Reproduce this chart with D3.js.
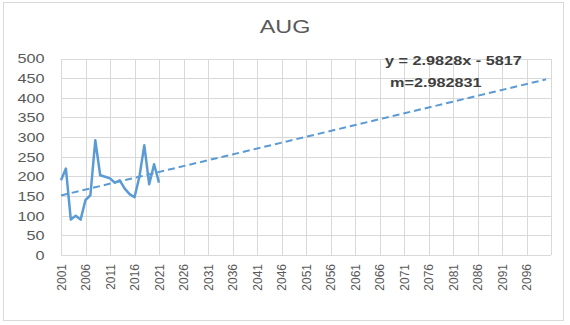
<!DOCTYPE html>
<html>
<head>
<meta charset="utf-8">
<script src="https://cdn.jsdelivr.net/npm/d3@7"></script>
<style>
  html, body { margin: 0; padding: 0; background: #ffffff; }
  svg { display: block; }
</style>
</head>
<body>
<svg id="chart" width="570" height="325"></svg>
<script>
// August series, 2001–2021
const years = [2001, 2002, 2003, 2004, 2005, 2006, 2007, 2008, 2009, 2010, 2011,
               2012, 2013, 2014, 2015, 2016, 2017, 2018, 2019, 2020, 2021];
const values = [190, 220, 90, 100, 90, 140, 152, 292, 203, 199, 195,
                184, 190, 169, 155, 147, 199, 279, 180, 231, 184];

// Linear trend as stated in the equation label
const trendSlope = 2.9828;
const trendIntercept = -5817;
const trendSlopeFull = 2.982831;
const trendYears = [2001, 2100];

const yTicks = [0, 50, 100, 150, 200, 250, 300, 350, 400, 450, 500];
const xTickYears = d3.range(2001, 2097, 5);   // labelled years 2001 … 2096
const xGridYears = d3.range(2001, 2102, 5);   // grid lines incl. right edge

const title = "AUG";

const svg = d3.select("#chart");
const SX = 1.3; // horizontal glyph stretch used by the chart's text

const plot = { left: 61, right: 551, top: 58.5, bottom: 255 };

const x = d3.scaleLinear().domain([2001, 2101]).range([plot.left, plot.right]);
const y = d3.scaleLinear().domain([0, 500]).range([plot.bottom, plot.top]);

// Chart frame
svg.append("rect")
  .attr("x", 3.5).attr("y", 2.5)
  .attr("width", 560).attr("height", 318)
  .attr("fill", "#ffffff")
  .attr("stroke", "#d9d9d9").attr("stroke-width", 1);

// Horizontal grid + y labels
const yAxis = d3.axisLeft(y).tickValues(yTicks).tickSize(-(plot.right - plot.left)).tickFormat(d3.format("d"));
const gy = svg.append("g").attr("transform", `translate(${plot.left},0)`).call(yAxis);
gy.select(".domain").remove();
gy.selectAll(".tick line").attr("stroke", "#d9d9d9").attr("stroke-width", 1)
  .attr("shape-rendering", "crispEdges");
gy.selectAll(".tick text").remove();
gy.selectAll(".tick").append("g")
  .attr("transform", `translate(-16.5,0) scale(${SX},1)`)
  .append("text")
  .attr("text-anchor", "end")
  .attr("dy", "0.35em")
  .attr("fill", "#595959")
  .style("font-family", "'Liberation Sans', Arial, sans-serif")
  .style("font-size", "12.5px")
  .text(d => d);

// Vertical grid
const xAxis = d3.axisBottom(x).tickValues(xGridYears).tickSize(-(plot.bottom - plot.top)).tickFormat("");
const gx = svg.append("g").attr("transform", `translate(0,${plot.bottom})`).call(xAxis);
gx.select(".domain").remove();
gx.selectAll(".tick line").attr("stroke", "#d9d9d9").attr("stroke-width", 1)
  .attr("shape-rendering", "crispEdges");

// Bottom axis line
svg.append("line")
  .attr("x1", plot.left).attr("x2", plot.right)
  .attr("y1", plot.bottom).attr("y2", plot.bottom)
  .attr("stroke", "#d9d9d9").attr("stroke-width", 1)
  .attr("shape-rendering", "crispEdges");

// Rotated year labels
svg.append("g").selectAll("g")
  .data(xTickYears)
  .join("g")
  .attr("transform", d => `translate(${x(d)},264) scale(1.1,1) rotate(-90)`)
  .append("text")
  .attr("text-anchor", "end")
  .attr("dy", "0.35em")
  .attr("fill", "#595959")
  .style("font-family", "'Liberation Sans', Arial, sans-serif")
  .style("font-size", "12px")
  .text(d => d);

// Trend line
const trend = trendYears.map(yr => ({ yr, v: trendSlope * yr + trendIntercept }));
svg.append("path")
  .datum(trend)
  .attr("fill", "none")
  .attr("stroke", "#5b9bd5")
  .attr("stroke-width", 2)
  .attr("stroke-dasharray", "7,4")
  .attr("d", d3.line().x(d => x(d.yr)).y(d => y(d.v)));

// Data line
svg.append("path")
  .datum(years.map((yr, i) => ({ yr, v: values[i] })))
  .attr("fill", "none")
  .attr("stroke", "#5b9bd5")
  .attr("stroke-width", 2.5)
  .attr("stroke-linejoin", "round")
  .attr("d", d3.line().x(d => x(d.yr)).y(d => y(d.v)));

// Title
svg.append("g")
  .attr("transform", `translate(285,33) scale(${SX},1)`)
  .append("text")
  .attr("text-anchor", "middle")
  .attr("fill", "#595959")
  .style("font-family", "'Liberation Sans', Arial, sans-serif")
  .style("font-size", "18px")
  .text(title);

// Equation labels
const eqFmt = v => v.toString();
svg.append("g")
  .attr("transform", `translate(385,65) scale(${SX},1)`)
  .append("text")
  .attr("fill", "#404040")
  .style("font-family", "'Liberation Sans', Arial, sans-serif")
  .style("font-size", "12.5px")
  .style("font-weight", "bold")
  .text(`y = ${eqFmt(trendSlope)}x - ${eqFmt(-trendIntercept)}`);

svg.append("g")
  .attr("transform", `translate(390,87) scale(${SX},1)`)
  .append("text")
  .attr("fill", "#404040")
  .style("font-family", "'Liberation Sans', Arial, sans-serif")
  .style("font-size", "12.5px")
  .style("font-weight", "bold")
  .text(`m=${eqFmt(trendSlopeFull)}`);
</script>
</body>
</html>
